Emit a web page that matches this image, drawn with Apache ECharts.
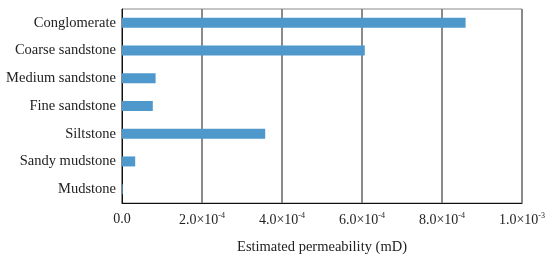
<!DOCTYPE html>
<html>
<head>
<meta charset="utf-8">
<script src="https://cdn.jsdelivr.net/npm/echarts@6/dist/echarts.min.js"></script>
<style>html,body{margin:0;padding:0;background:#fff}#c{width:556px;height:260px}</style>
</head>
<body>
<div id="c"></div>
<script>
const categories = ['Conglomerate','Coarse sandstone','Medium sandstone','Fine sandstone','Siltstone','Sandy mudstone','Mudstone'];
const permeability = [8.59e-4, 6.07e-4, 0.84e-4, 0.77e-4, 3.58e-4, 0.33e-4, 0.02e-4];
const tickValues = [0, 2e-4, 4e-4, 6e-4, 8e-4, 1e-3];
const tickLabels = ['0.0', '2.0×10{s|-4}', '4.0×10{s|-4}', '6.0×10{s|-4}', '8.0×10{s|-4}', '1.0×10{s|-3}'];
const axisName = 'Estimated permeability (mD)';

const font = '"Liberation Serif", "DejaVu Serif", serif';
const chart = echarts.init(document.getElementById('c'));
chart.setOption({
  animation: false,
  grid: { left: 122, right: 34, top: 9, bottom: 55.5, show: true, borderColor: '#888', borderWidth: 1 },
  xAxis: {
    type: 'value', min: 0, max: 1e-3, interval: 2e-4,
    name: axisName, nameLocation: 'middle', nameGap: 37,
    nameTextStyle: { fontFamily: font, fontSize: 14.5, color: '#222' },
    axisLine: { show: true, lineStyle: { color: '#111', width: 1 } },
    axisTick: { show: false },
    splitLine: { show: true, lineStyle: { color: '#8a8a8a', width: 2 } },
    axisLabel: {
      margin: 9, fontFamily: font, fontSize: 14, color: '#222',
      formatter: function (v) {
        for (let i = 0; i < tickValues.length; i++) {
          if (Math.abs(v - tickValues[i]) < 1e-9) return tickLabels[i];
        }
        return '';
      },
      rich: { s: { fontFamily: font, fontSize: 8, color: '#222', padding: [0, 0, 9, 0] } }
    }
  },
  yAxis: {
    type: 'category', data: categories, inverse: true,
    axisLine: { show: true, lineStyle: { color: '#111', width: 1 } },
    axisTick: { show: false },
    axisLabel: { margin: 6, fontFamily: font, fontSize: 14.5, color: '#222' }
  },
  series: [{
    type: 'bar', data: permeability, barWidth: 10,
    itemStyle: { color: '#4f98cc' }
  }]
});
</script>
</body>
</html>
